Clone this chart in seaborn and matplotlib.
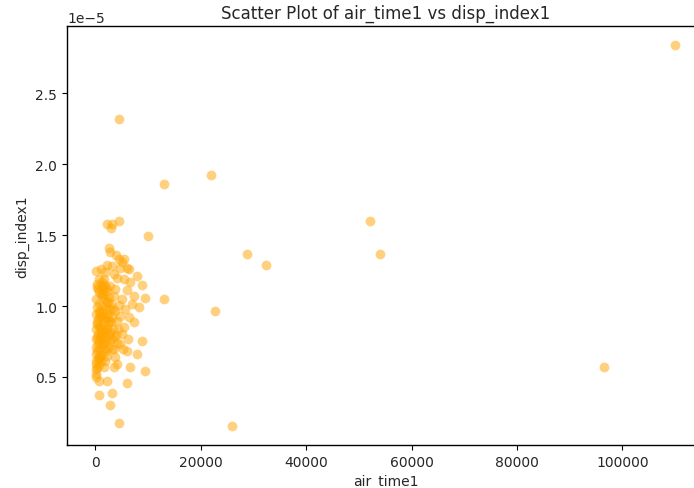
import numpy as np
import pandas as pd
import matplotlib
matplotlib.use("Agg")
import matplotlib.pyplot as plt
import seaborn as sns

# air_time1 values
air_time1 = [
    110000, 4560, 13100, 21850, 10070, 28700, 32300, 52060, 53960, 13100,
    22600, 96500, 26000, 4560,
    2240, 3180, 2990, 4490, 2620, 2800, 3930, 4490, 5420, 5050,
    2240, 3180, 5980, 190, 4680, 6360, 7850, 8790, 6550, 5420,
    4110, 1680, 1870, 1310, 3550, 5980, 7290, 9350, 8230, 4490,
    2240, 935, 935, 4680, 7290, 5420, 2800, 370, 1310, 2800,
    4680, 8790, 5980, 7850, 2240, 750, 370, 1680, 3550, 6550,
    9350, 5980, 750, 2240, 750, 3180, 2800,
    190, 560, 750, 1120, 1500, 1870, 2240, 2620, 2990, 3370,
    190, 560, 1120, 1500, 1870, 2240, 2620, 3180, 3740, 4110,
    190, 560, 935, 1500, 1870, 2240, 2620, 3370, 3930, 4300,
    190, 560, 935, 1310, 1680, 2060, 2430, 3180, 3550, 4110,
    190, 560, 935, 1310, 1870, 190, 750, 1120, 100, 190,
    370, 750, 1310, 2800, 3740, 5050, 5610, 6360, 6920, 5050,
    6170, 3740, 4110, 5240, 1870, 3550, 1120,
    370, 750, 1310, 1680, 2060, 2430, 370, 750, 1310, 1680,
    2060, 2430, 370, 750, 1120, 1680, 2060, 2430, 370, 750,
    1310, 1680, 2060, 370, 750, 100, 100, 190, 2800, 2990,
    3180, 3550,
]

# disp_index1 values (x 1e-5)
disp_index1 = [
    2.84, 2.32, 1.86, 1.92, 1.49, 1.37, 1.29, 1.60, 1.37, 1.05,
    0.965, 0.57, 0.155, 0.176,
    1.58, 1.58, 1.55, 1.60, 1.41, 1.38, 1.36, 1.33, 1.33, 1.31,
    1.29, 1.28, 1.27, 1.246, 1.27, 1.26, 1.21, 1.15, 1.17, 1.19,
    1.20, 1.19, 1.15, 1.07, 1.07, 1.11, 1.07, 1.06, 0.99, 1.01,
    1.03, 0.96, 0.93, 0.93, 0.89, 0.85, 0.82, 0.87, 0.80, 0.75,
    0.73, 0.75, 0.68, 0.66, 0.65, 0.70, 0.56, 0.57, 0.57, 0.57,
    0.54, 0.46, 0.47, 0.47, 0.37, 0.39, 0.30,
    1.049, 1.119, 1.014, 1.084, 1.119, 1.049, 1.105, 1.063, 1.014, 0.979,
    0.943, 0.908, 0.922, 0.964, 0.908, 0.943, 0.894, 0.922, 0.964, 0.894,
    0.838, 0.803, 0.852, 0.838, 0.781, 0.838, 0.803, 0.838, 0.796, 0.838,
    0.767, 0.732, 0.781, 0.732, 0.697, 0.753, 0.711, 0.767, 0.697, 0.739,
    0.662, 0.627, 0.641, 0.662, 0.612, 0.591, 0.584, 0.612, 0.521, 0.711,
    1.155, 1.190, 1.169, 1.140, 1.119, 1.049, 0.979, 0.922, 1.014, 0.803,
    0.767, 0.641, 0.591, 0.697, 1.239, 1.225, 1.260,
    1.133, 1.098, 1.140, 1.084, 1.126, 1.028, 0.993, 0.957, 1.000, 0.922,
    0.979, 0.873, 0.887, 0.859, 0.817, 0.866, 0.817, 0.922, 0.781, 0.753,
    0.767, 0.732, 0.683, 0.683, 0.641, 0.612, 0.556, 0.500, 0.979, 0.887,
    0.697, 0.781,
]

df = pd.DataFrame({
    "air_time1": np.array(air_time1, dtype=float),
    "disp_index1": np.array(disp_index1, dtype=float) * 1e-5,
})

sns.set_style("white")
plt.rcParams["font.family"] = ["DejaVu Sans"]

fig = plt.figure(figsize=(6.94, 4.89), dpi=100)
ax = fig.add_axes([0.0965, 0.088, 0.918, 0.857])

sns.scatterplot(data=df, x="air_time1", y="disp_index1", ax=ax,
                color="orange", alpha=0.5, s=50, linewidth=0)

ax.set_title("Scatter Plot of air_time1 vs disp_index1", fontsize=12)
ax.set_xlabel("air_time1", fontsize=10)
ax.set_ylabel("disp_index1", fontsize=10)
for sp in ax.spines.values():
    sp.set_color("black")
    sp.set_linewidth(1.0)
ax.tick_params(axis="both", which="both", length=3.5, width=0.8, labelsize=10,
               bottom=True, left=True, color="black")

fig.savefig("out.png", dpi=100)
